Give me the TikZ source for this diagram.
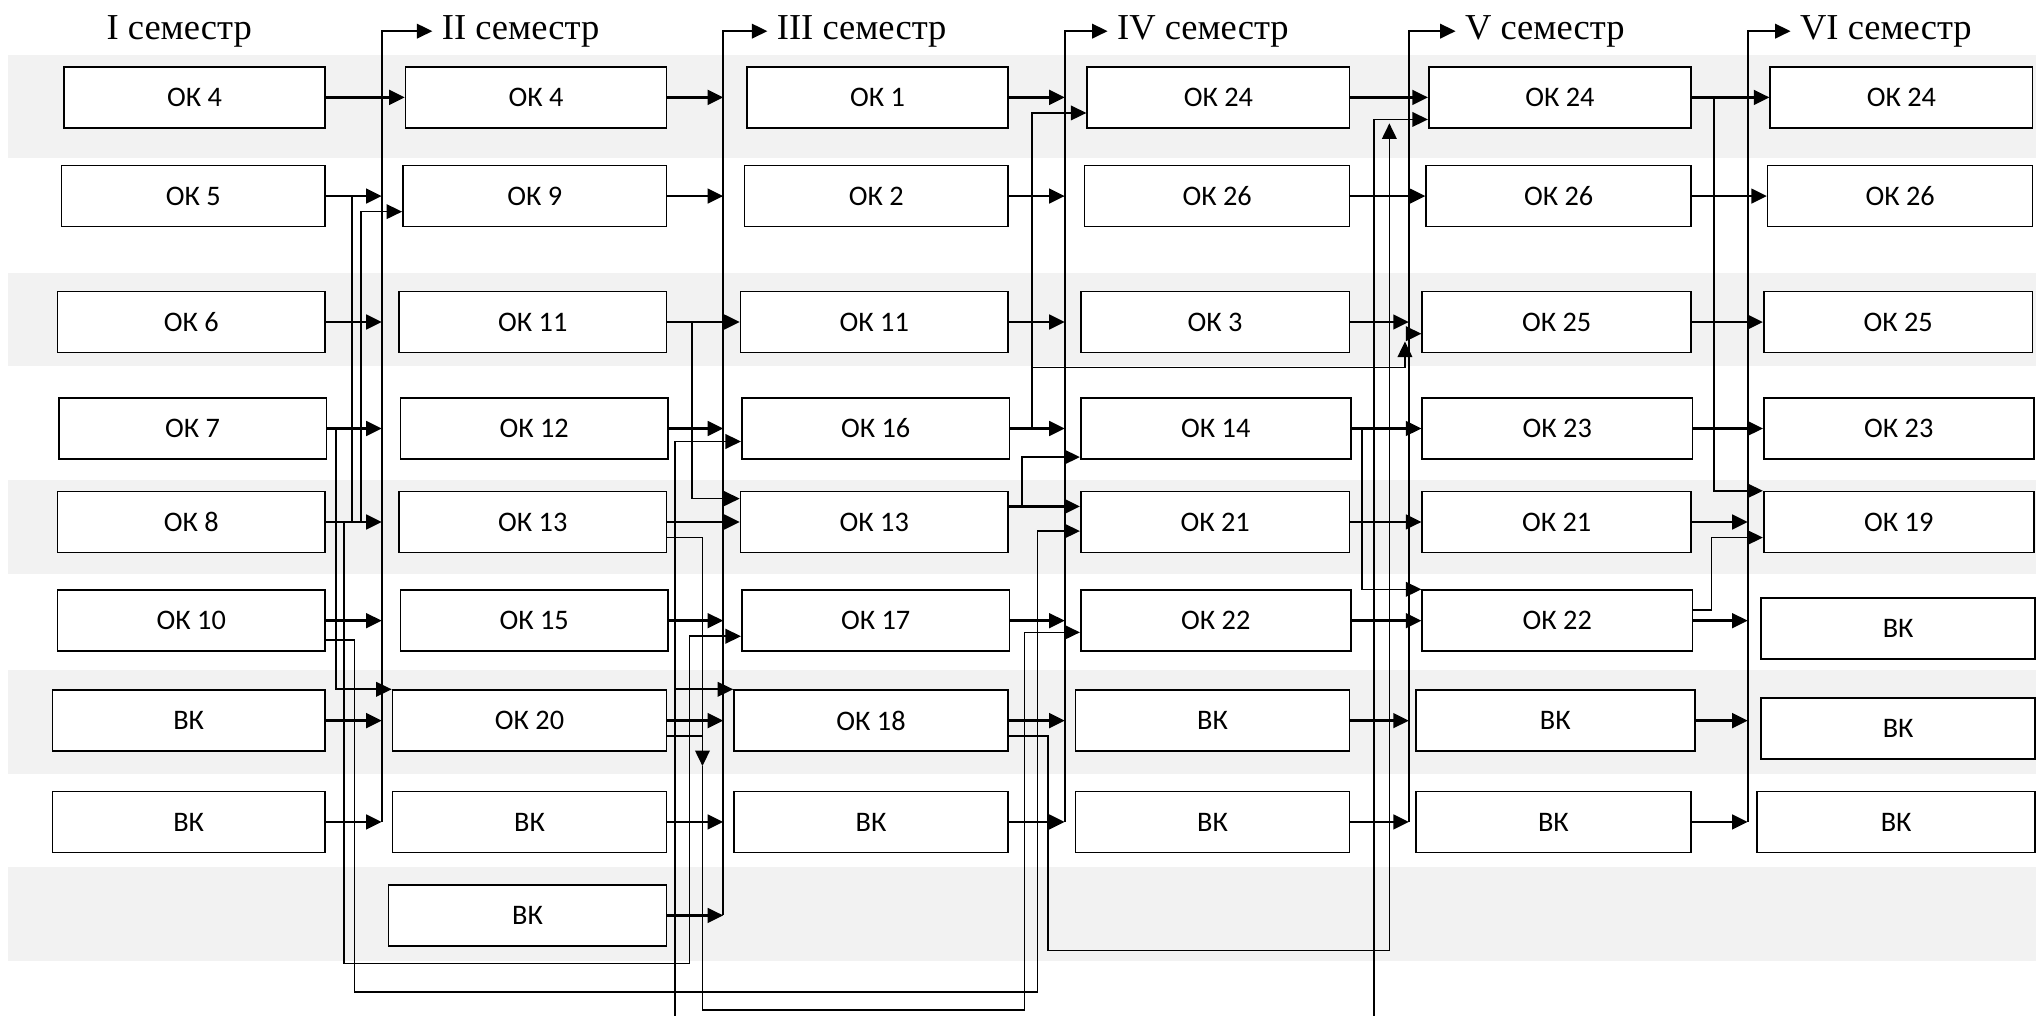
\documentclass[tikz,border=0pt]{standalone}
\usepackage{fontspec}
\setmainfont{Liberation Serif}
\newfontfamily\boxfont{Carlito}
\usetikzlibrary{arrows.meta,calc}
\definecolor{bandgray}{HTML}{F2F2F2}

\begin{document}
\begin{tikzpicture}[x=0.025cm, y=-0.025cm,
  box/.style={rectangle, draw, line width=0.9pt, fill=white, anchor=east,
    minimum height=1.175cm, minimum width=#1, inner sep=0pt,
    font=\boxfont\fontsize{15.5}{17}\selectfont},
  box/.default=5.15cm,
  head/.style={inner sep=5pt, font=\fontsize{20}{24}\selectfont},
  arr/.style={-{Triangle[length=8.5pt,width=8pt]}, line width=1.4pt},
  link/.style={-{Triangle[length=8.5pt,width=8pt]}, line width=0.9pt},
  wire/.style={line width=0.9pt},
  bus/.style={-{Triangle[length=8.5pt,width=8pt]}, line width=1pt}]
  \useasboundingbox (0,0) rectangle (1568,782);

  % background bands
  \fill[bandgray] (6,42) rectangle (1568,122);
  \fill[bandgray] (6,210) rectangle (1568,282);
  \fill[bandgray] (6,370) rectangle (1568,442);
  \fill[bandgray] (6,516) rectangle (1568,596);
  \fill[bandgray] (6,668) rectangle (1568,740);

  % semester titles
  \node (h1) at (138,24) [head] {I семестр};
  \node (h2) at (333,24) [head, anchor=west] {II семестр};
  \node (h3) at (591,24) [head, anchor=west] {III семестр};
  \node (h4) at (853,24) [head, anchor=west] {IV семестр};
  \node (h5) at (1121,24) [head, anchor=west] {V семестр};
  \node (h6) at (1379,24) [head, anchor=west] {VI семестр};

  % I semester
  \node (s1ok4)  at (251,75)  [box=5.025cm] {ОК 4};
  \node (s1ok5)  at (251,151) [box=5.075cm] {ОК 5};
  \node (s1ok6)  at (251,248) [box] {ОК 6};
  \node (s1ok7)  at (252,330) [box] {ОК 7};
  \node (s1ok8)  at (251,402) [box] {ОК 8};
  \node (s1ok10) at (251,478) [box] {ОК 10};
  \node (s1vk1)  at (251,555) [box=5.25cm] {ВК};
  \node (s1vk2)  at (251,633) [box=5.25cm] {ВК};

  % II semester
  \node (s2ok4)  at (514,75)  [box=5.025cm] {ОК 4};
  \node (s2ok9)  at (514,151) [box=5.075cm] {ОК 9};
  \node (s2ok11) at (514,248) [box] {ОК 11};
  \node (s2ok12) at (515,330) [box] {ОК 12};
  \node (s2ok13) at (514,402) [box] {ОК 13};
  \node (s2ok15) at (515,478) [box] {ОК 15};
  \node (s2ok20) at (514,555) [box=5.275cm] {ОК 20};
  \node (s2vk1)  at (514,633) [box=5.275cm] {ВК};
  \node (s2vk2)  at (514,705) [box=5.35cm] {ВК};

  % III semester
  \node (s3ok1)  at (777,75)  [box=5.025cm] {ОК 1};
  \node (s3ok2)  at (777,151) [box=5.075cm] {ОК 2};
  \node (s3ok11) at (777,248) [box] {ОК 11};
  \node (s3ok16) at (778,330) [box] {ОК 16};
  \node (s3ok13) at (777,402) [box] {ОК 13};
  \node (s3ok17) at (778,478) [box] {ОК 17};
  \node (s3ok18) at (777,555) [box=5.275cm] {ОК 18};
  \node (s3vk)   at (777,633) [box=5.275cm] {ВК};

  % IV semester
  \node (s4ok24) at (1040,75)  [box=5.05cm] {ОК 24};
  \node (s4ok26) at (1040,151) [box=5.1cm] {ОК 26};
  \node (s4ok3)  at (1040,248) [box=5.175cm] {ОК 3};
  \node (s4ok14) at (1041,330) [box=5.2cm] {ОК 14};
  \node (s4ok21) at (1040,402) [box=5.175cm] {ОК 21};
  \node (s4ok22) at (1041,478) [box=5.2cm] {ОК 22};
  \node (s4vk1)  at (1040,555) [box=5.275cm] {ВК};
  \node (s4vk2)  at (1040,633) [box=5.275cm] {ВК};

  % V semester
  \node (s5ok24) at (1303,75)  [box=5.05cm] {ОК 24};
  \node (s5ok26) at (1303,151) [box=5.1cm] {ОК 26};
  \node (s5ok25) at (1303,248) [box=5.175cm] {ОК 25};
  \node (s5ok23) at (1304,330) [box=5.2cm] {ОК 23};
  \node (s5ok21) at (1303,402) [box=5.175cm] {ОК 21};
  \node (s5ok22) at (1304,478) [box=5.2cm] {ОК 22};
  \node (s5vk1)  at (1306,555) [box=5.375cm] {ВК};
  \node (s5vk2)  at (1303,633) [box=5.3cm] {ВК};

  % VI semester
  \node (s6ok24) at (1566,75)  [box=5.05cm] {ОК 24};
  \node (s6ok26) at (1566,151) [box=5.1cm] {ОК 26};
  \node (s6ok25) at (1566,248) [box=5.175cm] {ОК 25};
  \node (s6ok23) at (1567,330) [box=5.2cm] {ОК 23};
  \node (s6ok19) at (1567,402) [box=5.2cm] {ОК 19};
  \node (s6vk1)  at (1568,484) [box=5.275cm] {ВК};
  \node (s6vk2)  at (1568,561) [box=5.275cm] {ВК};
  \node (s6vk3)  at (1568,633) [box=5.35cm] {ВК};

  % buses and routing points
  \coordinate (b1) at (294,0);  \coordinate (b2) at (557,0);
  \coordinate (b3) at (820,0);  \coordinate (b4) at (1085,0);
  \coordinate (b5) at (1346,0);
  \coordinate (g1a) at (259,0); \coordinate (g1b) at (265,0);
  \coordinate (g1c) at (271,0); \coordinate (g1d) at (278,0);
  \coordinate (g1e) at (273,0);
  \coordinate (g2a) at (520,0); \coordinate (g2c) at (533,0);
  \coordinate (g2d) at (541,0);
  \coordinate (g3a) at (787,0); \coordinate (g3b) at (795,0);
  \coordinate (g3c) at (807,0);
  \coordinate (g4a) at (1049,0); \coordinate (g4c) at (1082,0);
  \coordinate (g5a) at (1318,0); \coordinate (g5b) at (1320,0);
  \coordinate (low1) at (531,742); \coordinate (low2) at (799,764);
  \coordinate (low3) at (789,778); \coordinate (low4) at (1070,732);
  \coordinate (far) at (1058,800);
  \coordinate (dn) at (0,590);  \coordinate (hl) at (0,283);
  \coordinate (up25) at (0,263); \coordinate (t5) at (1070,95);

  % I -> II
  \draw[arr] (s1ok4) -- (s2ok4);
  \foreach \n in {s1ok5,s1ok6,s1ok7,s1ok8,s1ok10,s1vk1,s1vk2}
    \draw[arr] (\n) -- (\n -| b1);
  \draw[bus] (s1vk2 -| b1) |- (h2.west);
  \draw[wire] (s1ok5 -| g1c) -- (s1ok8 -| g1c);
  \draw[link] (s1ok7 -| g1a) |- (s2ok20.north west);
  \draw[link] (s1ok8 -| g1d) |- ($(s2ok9.west)+(0,12)$);
  \draw[link] (s1ok8 -| g1b) |- (low1) |- ($(s3ok17.west)+(0,12)$);
  \draw[link] ($(s1ok10.east)+(0,15)$) -| (g1e |- low2) -- (low2) |- ($(s4ok21.west)+(0,7)$);

  % II -> III
  \draw[arr] (s2ok11) -- (s3ok11);
  \draw[arr] (s2ok13) -- (s3ok13);
  \foreach \n in {s2ok4,s2ok9,s2ok12,s2ok15,s2ok20,s2vk1,s2vk2}
    \draw[arr] (\n) -- (\n -| b2);
  \draw[bus] (s2vk2 -| b2) |- (h3.west);
  \draw[link] (s2ok11 -| g2c) |- ($(s3ok13.west)+(0,-18)$);
  \draw[link] (s2ok15 -| g2a) |- ($(s3ok16.west)+(0,10)$);
  \draw[link] (s3ok18.north west -| g2a) -- (s3ok18.north west);
  \draw[link] (s2ok15 -| g2a) |- (far) |- ($(s5ok24.west)+(0,17)$);
  \draw[link] ($(s2ok13.east)+(0,12)$) -| (g2d |- dn);
  \draw[wire] ($(s2ok20.east)+(0,12)$) -- +(27,0);
  \draw[link] (g2d |- dn) |- (low3) |- ($(s4ok22.west)+(0,9)$);

  % III -> IV
  \foreach \n in {s3ok1,s3ok2,s3ok11,s3ok16,s3ok17,s3ok18,s3vk}
    \draw[arr] (\n) -- (\n -| b3);
  \draw[bus] (s3vk -| b3) |- (h4.west);
  \draw[arr] ($(s3ok13.east)+(0,-12)$) -- ($(s4ok21.west)+(0,-12)$);
  \draw[link] ($(s3ok13.east)+(0,-12)$) -- +(10,0) |- ($(s4ok14.west)+(0,22)$);
  \draw[link] (s3ok16 -| g3b) |- ($(s4ok24.west)+(0,12)$);
  \draw[link] (g3b |- hl) -| (g4c |- up25);
  \draw[link] ($(s5ok25.west)+(-12,9)$) -- ($(s5ok25.west)+(0,9)$);
  \draw[link] ($(s3ok18.east)+(0,12)$) -| (g3c |- low4) -- (low4) -- (t5);

  % IV -> V
  \draw[arr] (s4ok24) -- (s5ok24);
  \draw[arr] (s4ok26) -- (s5ok26);
  \draw[arr] (s4ok14) -- (s5ok23);
  \draw[arr] (s4ok21) -- (s5ok21);
  \draw[arr] (s4ok22) -- (s5ok22);
  \foreach \n in {s4ok3,s4vk1,s4vk2}
    \draw[arr] (\n) -- (\n -| b4);
  \draw[bus] (s4vk2 -| b4) |- (h5.west);
  \draw[link] (s4ok14 -| g4a) |- (s5ok22.north west);

  % V -> VI
  \draw[arr] (s5ok24) -- (s6ok24);
  \draw[arr] (s5ok26) -- (s6ok26);
  \draw[arr] (s5ok25) -- (s6ok25);
  \draw[arr] (s5ok23) -- (s6ok23);
  \foreach \n in {s5ok21,s5ok22,s5vk1,s5vk2}
    \draw[arr] (\n) -- (\n -| b5);
  \draw[bus] (s5vk2 -| b5) |- (h6.west);
  \draw[link] (s5ok24 -| g5b) |- ($(s6ok19.west)+(0,-24)$);
  \draw[link] ($(s5ok22.east)+(0,-8)$) -- +(14,0) |- ($(s6ok19.west)+(0,12)$);
\end{tikzpicture}
\end{document}
